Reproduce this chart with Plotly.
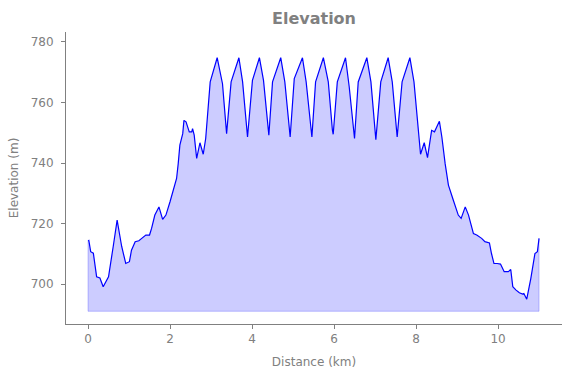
import plotly.graph_objects as go

distance_km = [0.0, 0.02, 0.065, 0.13, 0.21, 0.29, 0.37, 0.5, 0.62, 0.71, 0.82, 0.92, 1.01, 1.06,
               1.15, 1.24, 1.31, 1.41, 1.5, 1.55, 1.63, 1.73, 1.82, 1.9, 2.0, 2.12, 2.16, 2.2,
               2.24, 2.31, 2.34, 2.39, 2.47, 2.53, 2.55, 2.59, 2.65, 2.73, 2.81, 2.87, 2.98,
               3.15, 3.28, 3.38, 3.49, 3.68, 3.77, 3.89, 4.01, 4.18, 4.28, 4.41, 4.5, 4.7, 4.8,
               4.93, 5.03, 5.23, 5.32, 5.46, 5.55, 5.74, 5.86, 5.96, 5.98, 6.08, 6.28, 6.37,
               6.50, 6.59, 6.8, 6.9, 7.02, 7.14, 7.32, 7.42, 7.54, 7.66, 7.85, 7.95, 8.02, 8.11,
               8.2, 8.28, 8.38, 8.45, 8.57, 8.63, 8.71, 8.79, 8.91, 9.03, 9.1, 9.2, 9.28, 9.4,
               9.48, 9.6, 9.68, 9.79, 9.84, 9.9, 9.98, 10.06, 10.15, 10.25, 10.31, 10.36, 10.44,
               10.52, 10.6, 10.63, 10.7, 10.8, 10.9, 10.96, 11.0]

elevation_m = [714.2, 714.4, 710.7, 710.2, 702.4, 702.0, 699.1, 702.4, 712.9, 721.1, 712.5, 706.8,
               707.4, 711.2, 714.0, 714.3, 715.1, 716.2, 716.2, 718.4, 722.8, 725.5, 721.4, 722.8,
               727.2, 733.2, 734.9, 739.8, 745.9, 749.7, 754.1, 753.6, 750.3, 750.3, 751.4, 749.2,
               741.5, 746.7, 742.9, 748.1, 766.8, 774.8, 766.2, 749.7, 766.8, 774.8, 766.8, 748.6,
               767.3, 774.8, 767.3, 749.2, 766.8, 774.8, 766.8, 748.6, 767.9, 774.8, 766.8, 748.6,
               766.8, 774.8, 766.8, 750.9, 749.5, 766.8, 774.8, 765.2, 748.1, 766.8, 774.8, 766.8,
               747.7, 766.8, 774.8, 766.8, 748.6, 766.8, 774.8, 766.8, 756.3, 742.9, 746.7, 741.8,
               750.8, 750.3, 753.8, 748.6, 739.8, 732.7, 727.7, 722.8, 721.7, 725.5, 722.8, 716.7,
               716.2, 715.1, 714.0, 713.6, 710.1, 706.8, 706.8, 706.6, 704.1, 704.1, 704.8, 699.1,
               698.0, 697.1, 696.7, 696.9, 695.0, 701.9, 710.1, 710.7, 715.1]

fill_base_m = 691

x_ticks = [0, 2, 4, 6, 8, 10]
y_ticks = [700, 720, 740, 760, 780]

GRAY = "#808080"
FONT = "DejaVu Sans"

fig = go.Figure()
fig.add_trace(go.Scatter(
    x=distance_km, y=[fill_base_m] * len(distance_km), mode="lines",
    line=dict(color="rgba(0,0,255,0.22)", width=1), hoverinfo="skip", showlegend=False))
fig.add_trace(go.Scatter(
    x=distance_km, y=elevation_m, mode="lines", fill="tonexty",
    fillcolor="rgba(0,0,255,0.2)", line=dict(color="#0000ff", width=1.2), showlegend=False))
for xi, yi in [(distance_km[0], elevation_m[0]), (distance_km[-1], elevation_m[-1])]:
    fig.add_trace(go.Scatter(x=[xi, xi], y=[fill_base_m, yi], mode="lines",
                             line=dict(color="rgba(0,0,255,0.22)", width=1),
                             hoverinfo="skip", showlegend=False))

fig.update_layout(
    width=571, height=378,
    margin=dict(l=66, r=9, t=32, b=54, autoexpand=False),
    paper_bgcolor="white", plot_bgcolor="white",
    font=dict(family=FONT, size=12, color=GRAY),
    title=dict(text="<b>Elevation</b>", xref="paper", x=0.5, xanchor="center",
               yref="container", y=1 - 18 / 378, yanchor="middle",
               font=dict(family=FONT, size=16, color=GRAY)),
    xaxis=dict(range=[-0.537, 11.56], tickvals=x_ticks, ticks="outside", ticklen=4,
               tickcolor=GRAY, showline=True, linecolor=GRAY, linewidth=1, showgrid=False,
               zeroline=False, automargin=False,
               title=dict(text="Distance (km)", standoff=12, font=dict(size=12, color=GRAY))),
    yaxis=dict(range=[686.8, 783.3], tickvals=y_ticks, ticks="outside", ticklen=4,
               ticklabelstandoff=5,
               tickcolor=GRAY, showline=True, linecolor=GRAY, linewidth=1, showgrid=False,
               zeroline=False, automargin=False,
               title=dict(text="Elevation (m)", standoff=9, font=dict(size=12, color=GRAY))),
)

fig.write_html("out.html", config={"displayModeBar": False},
               post_script="document.body.style.margin='0';")
